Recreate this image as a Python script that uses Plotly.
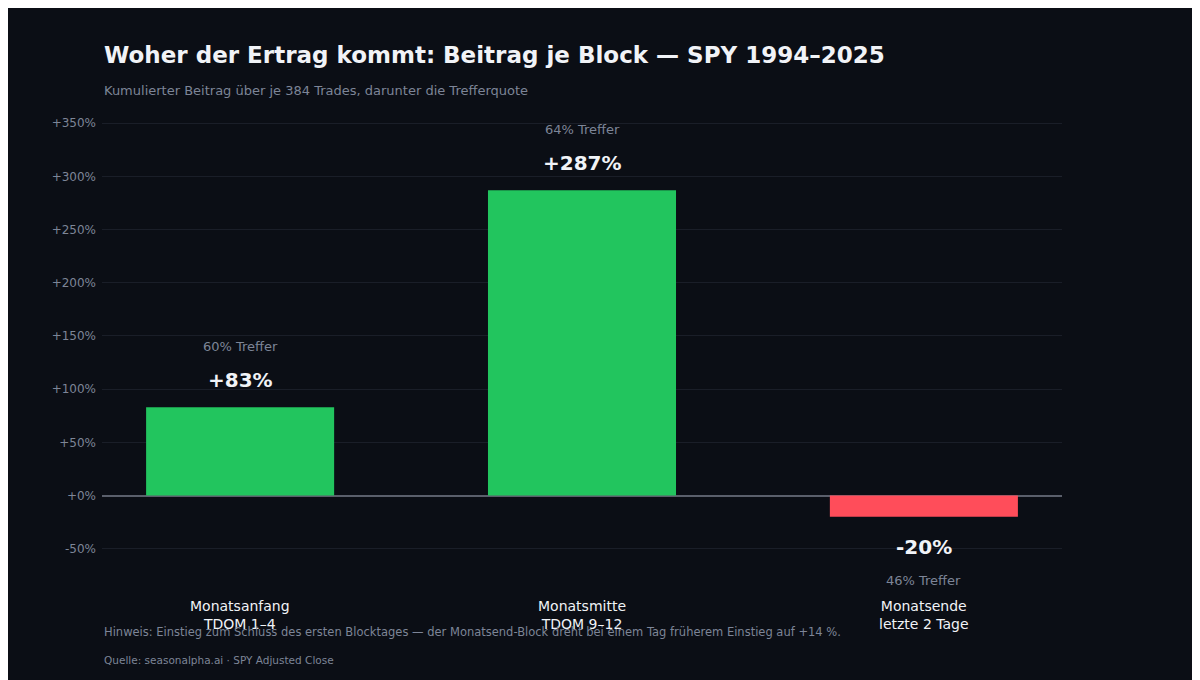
import plotly.graph_objects as go

BLOCKS = ["Monatsanfang<br>TDOM 1–4", "Monatsmitte<br>TDOM 9–12", "Monatsende<br>letzte 2 Tage"]
BEITRAG = [83, 287, -20]
TREFFER = [60, 64, 46]
Y_TICKS = [-50, 0, 50, 100, 150, 200, 250, 300, 350]

BG = "#0b0e15"
GRUEN = "#22c55e"
ROT = "#ff4d5a"
GRAU = "#7d8597"
WEISS = "#f1f3f7"
FONT = "DejaVu Sans"

fig = go.Figure()
fig.add_trace(go.Bar(
    x=BLOCKS, y=BEITRAG, width=0.55,
    marker_color=[GRUEN if v >= 0 else ROT for v in BEITRAG],
    marker_line_width=0, hoverinfo="skip",
))

for b, v, t in zip(BLOCKS, BEITRAG, TREFFER):
    pos = v >= 0
    fig.add_annotation(x=b, y=v, text=f"<b>{v:+d}%</b>", showarrow=False,
                       yanchor="bottom" if pos else "top", yshift=13 if pos else -16,
                       font=dict(size=20, color=WEISS, family=FONT))
    fig.add_annotation(x=b, y=v, text=f"{t}% Treffer", showarrow=False,
                       yanchor="bottom" if pos else "top", yshift=51 if pos else -54,
                       font=dict(size=13, color=GRAU, family=FONT))
    fig.add_annotation(x=b, y=0, yref="paper", text=b, showarrow=False,
                       yanchor="top", yshift=-26,
                       font=dict(size=14, color=WEISS, family=FONT))

fig.add_annotation(x=0, xref="paper", y=1.147, yref="paper", xanchor="left", yanchor="middle",
                   showarrow=False,
                   text="<b>Woher der Ertrag kommt: Beitrag je Block — SPY 1994–2025</b>",
                   font=dict(size=23, color=WEISS, family=FONT))
fig.add_annotation(x=0, xref="paper", y=1.067, yref="paper", xanchor="left", yanchor="middle",
                   showarrow=False,
                   text="Kumulierter Beitrag über je 384 Trades, darunter die Trefferquote",
                   font=dict(size=13, color=GRAU, family=FONT))
fig.add_annotation(x=0, xref="paper", y=-0.138, yref="paper", xanchor="left", yanchor="middle",
                   showarrow=False,
                   text="Hinweis: Einstieg zum Schluss des ersten Blocktages — der Monatsend-Block dreht bei einem Tag früherem Einstieg auf +14 %.",
                   font=dict(size=11.5, color=GRAU, family=FONT))
fig.add_annotation(x=0, xref="paper", y=-0.200, yref="paper", xanchor="left", yanchor="middle",
                   showarrow=False,
                   text="Quelle: seasonalpha.ai · SPY Adjusted Close",
                   font=dict(size=10.5, color=GRAU, family=FONT))

fig.update_layout(
    width=1200, height=680,
    paper_bgcolor=BG, plot_bgcolor=BG,
    font=dict(family=FONT, color=GRAU),
    margin=dict(l=94, r=146, t=113, b=118),
    showlegend=False,
    xaxis=dict(showticklabels=False, showgrid=False, zeroline=False, range=[-0.404, 2.404]),
    yaxis=dict(range=[-70, 352], tickvals=Y_TICKS,
               ticktext=[f"{v:+d}%" if v != 0 else "+0%" for v in Y_TICKS],
               gridcolor="#1a1e28", zeroline=True, zerolinecolor="#5a5f6b", zerolinewidth=1.5,
               tickfont=dict(size=12, color=GRAU), ticks="", ticklabelstandoff=5),
)

fig.write_html("out.html")
